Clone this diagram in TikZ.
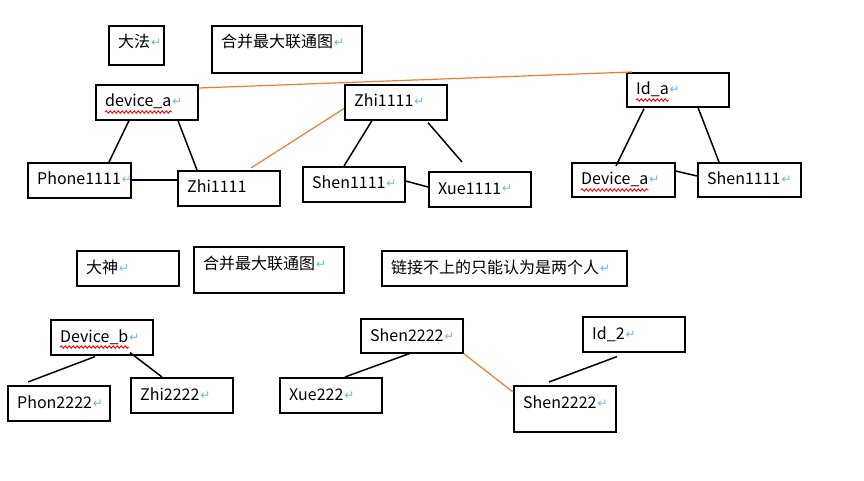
\documentclass[tikz,border=0pt]{standalone}
\usepackage{fontspec}
\setmainfont{Noto Sans CJK SC}
\newfontfamily\symf{DejaVu Sans}
\usetikzlibrary{calc,decorations.pathmorphing}
\definecolor{wordorange}{HTML}{ED7D31}
\definecolor{retblue}{HTML}{6AB4F5}
\tikzset{
  box/.style={draw=black, line width=1.6pt, anchor=north west, inner sep=0pt, fill=white},
  lbl/.style={anchor=base west, inner sep=0pt, font=\fontsize{16}{19}\selectfont},
  retmark/.style={anchor=base west, inner sep=0pt, text=retblue, font=\symf\fontsize{12}{14}\selectfont},
  conn/.style={line width=1.5pt, black},
  oconn/.style={line width=1.2pt, wordorange},
  wavy/.style={red, line width=0.9pt, decorate, decoration={snake, segment length=4pt, amplitude=1.2pt}}
}
% name, x, y, w, h, text
\newcommand\mybx[6]{%
  \node[box, minimum width=#4pt, minimum height=#5pt] (#1) at (#2,#3) {};
  \node[lbl] (#1t) at ($(#1.north west)+(10,23)$) {#6};
}
\newcommand\myret[1]{\node[retmark] at ($(#1t.base east)+(0.5,-1)$) {↵};}
\newcommand\mywavy[1]{\draw[wavy] ($(#1t.base west)+(0,5)$) -- ($(#1t.base east)+(0,5)$);}
\begin{document}
\begin{tikzpicture}[x=1pt,y=-1pt]
\useasboundingbox (0,0) rectangle (864,481);
% boxes
\mybx{dafa}{108}{25}{55}{39}{大法}\myret{dafa}
\mybx{hbA}{211}{25}{150}{47}{合并最大联通图}\myret{hbA}
\mybx{da}{95}{84}{102}{35}{device\_a}\myret{da}\mywavy{da}
\mybx{zt}{344}{84}{102}{35}{Zhi1111}\myret{zt}
\mybx{ida}{626}{72}{102}{34}{Id\_a}\myret{ida}\mywavy{ida}
\mybx{ph}{27}{162}{103}{35}{Phone1111}\myret{ph}
\mybx{zl}{177}{170}{102}{35}{Zhi1111}
\mybx{sha}{302}{166}{102}{35}{Shen1111}\myret{sha}
\mybx{xuea}{428}{171}{102}{35}{Xue1111}\myret{xuea}
\mybx{dva}{571}{162}{103}{34}{Device\_a}\myret{dva}\mywavy{dva}
\mybx{shar}{697}{162}{103}{34}{Shen1111}\myret{shar}
\mybx{dashen}{76}{250}{102}{35}{大神}\myret{dashen}
\mybx{hbB}{193}{246}{150}{46}{合并最大联通图}\myret{hbB}
\mybx{link}{381}{250}{245}{35}{链接不上的只能认为是两个人}\myret{link}
\mybx{dvb}{50}{319}{102}{35}{Device\_b}\myret{dvb}\mywavy{dvb}
\mybx{sbt}{360}{318}{102}{34}{Shen2222}\myret{sbt}
\mybx{idb}{582}{316}{102}{35}{Id\_2}\myret{idb}
\mybx{phb}{7}{385}{102}{35}{Phon2222}\myret{phb}
\mybx{zhb}{130}{377}{102}{35}{Zhi2222}\myret{zhb}
\mybx{xub}{279}{377}{102}{35}{Xue222}\myret{xub}
\mybx{sbl}{513}{385}{102}{46}{Shen2222}\myret{sbl}
% black connectors
\draw[conn] ($(da.south west)+(34,0)$) -- ($(ph.north west)+(82,0)$);
\draw[conn] ($(da.south west)+(83,0)$) -- ($(zl.north west)+(20,0)$);
\draw[conn] ($(ph.north east)+(0,18)$) -- ($(zl.north west)+(0,10)$);
\draw[conn] ($(zt.south west)+(28,0)$) -- ($(sha.north west)+(42,0)$);
\draw[conn] ($(zt.south west)+(84,2)$) -- ($(xuea.north west)+(34,-9)$);
\draw[conn] ($(sha.north east)+(0,15)$) -- ($(xuea.north west)+(0,16)$);
\draw[conn] ($(ida.south west)+(18,1)$) -- ($(dva.north west)+(45,4)$);
\draw[conn] ($(ida.south west)+(72,0)$) -- ($(shar.north west)+(22,0)$);
\draw[conn] ($(dva.north east)+(0,9)$) -- ($(shar.north west)+(0,14)$);
\draw[conn] ($(dvb.south west)+(45,1)$) -- ($(phb.north west)+(21,-3)$);
\draw[conn] ($(dvb.south west)+(80,-3)$) -- ($(zhb.north west)+(32,0)$);
\draw[conn] ($(sbt.south west)+(52,-1)$) -- ($(xub.north west)+(66,0)$);
\draw[conn] ($(idb.south west)+(35,4)$) -- ($(sbl.north west)+(36,-3)$);
% orange connectors
\draw[oconn] ($(da.north east)+(0,4)$) -- ($(ida.north west)+(6,0)$);
\draw[oconn] ($(zl.north west)+(74,-2)$) -- ($(zt.south west)+(0,-12)$);
\draw[oconn] (sbt.south east) -- ($(sbl.north west)+(0,7)$);
\end{tikzpicture}
\end{document}
